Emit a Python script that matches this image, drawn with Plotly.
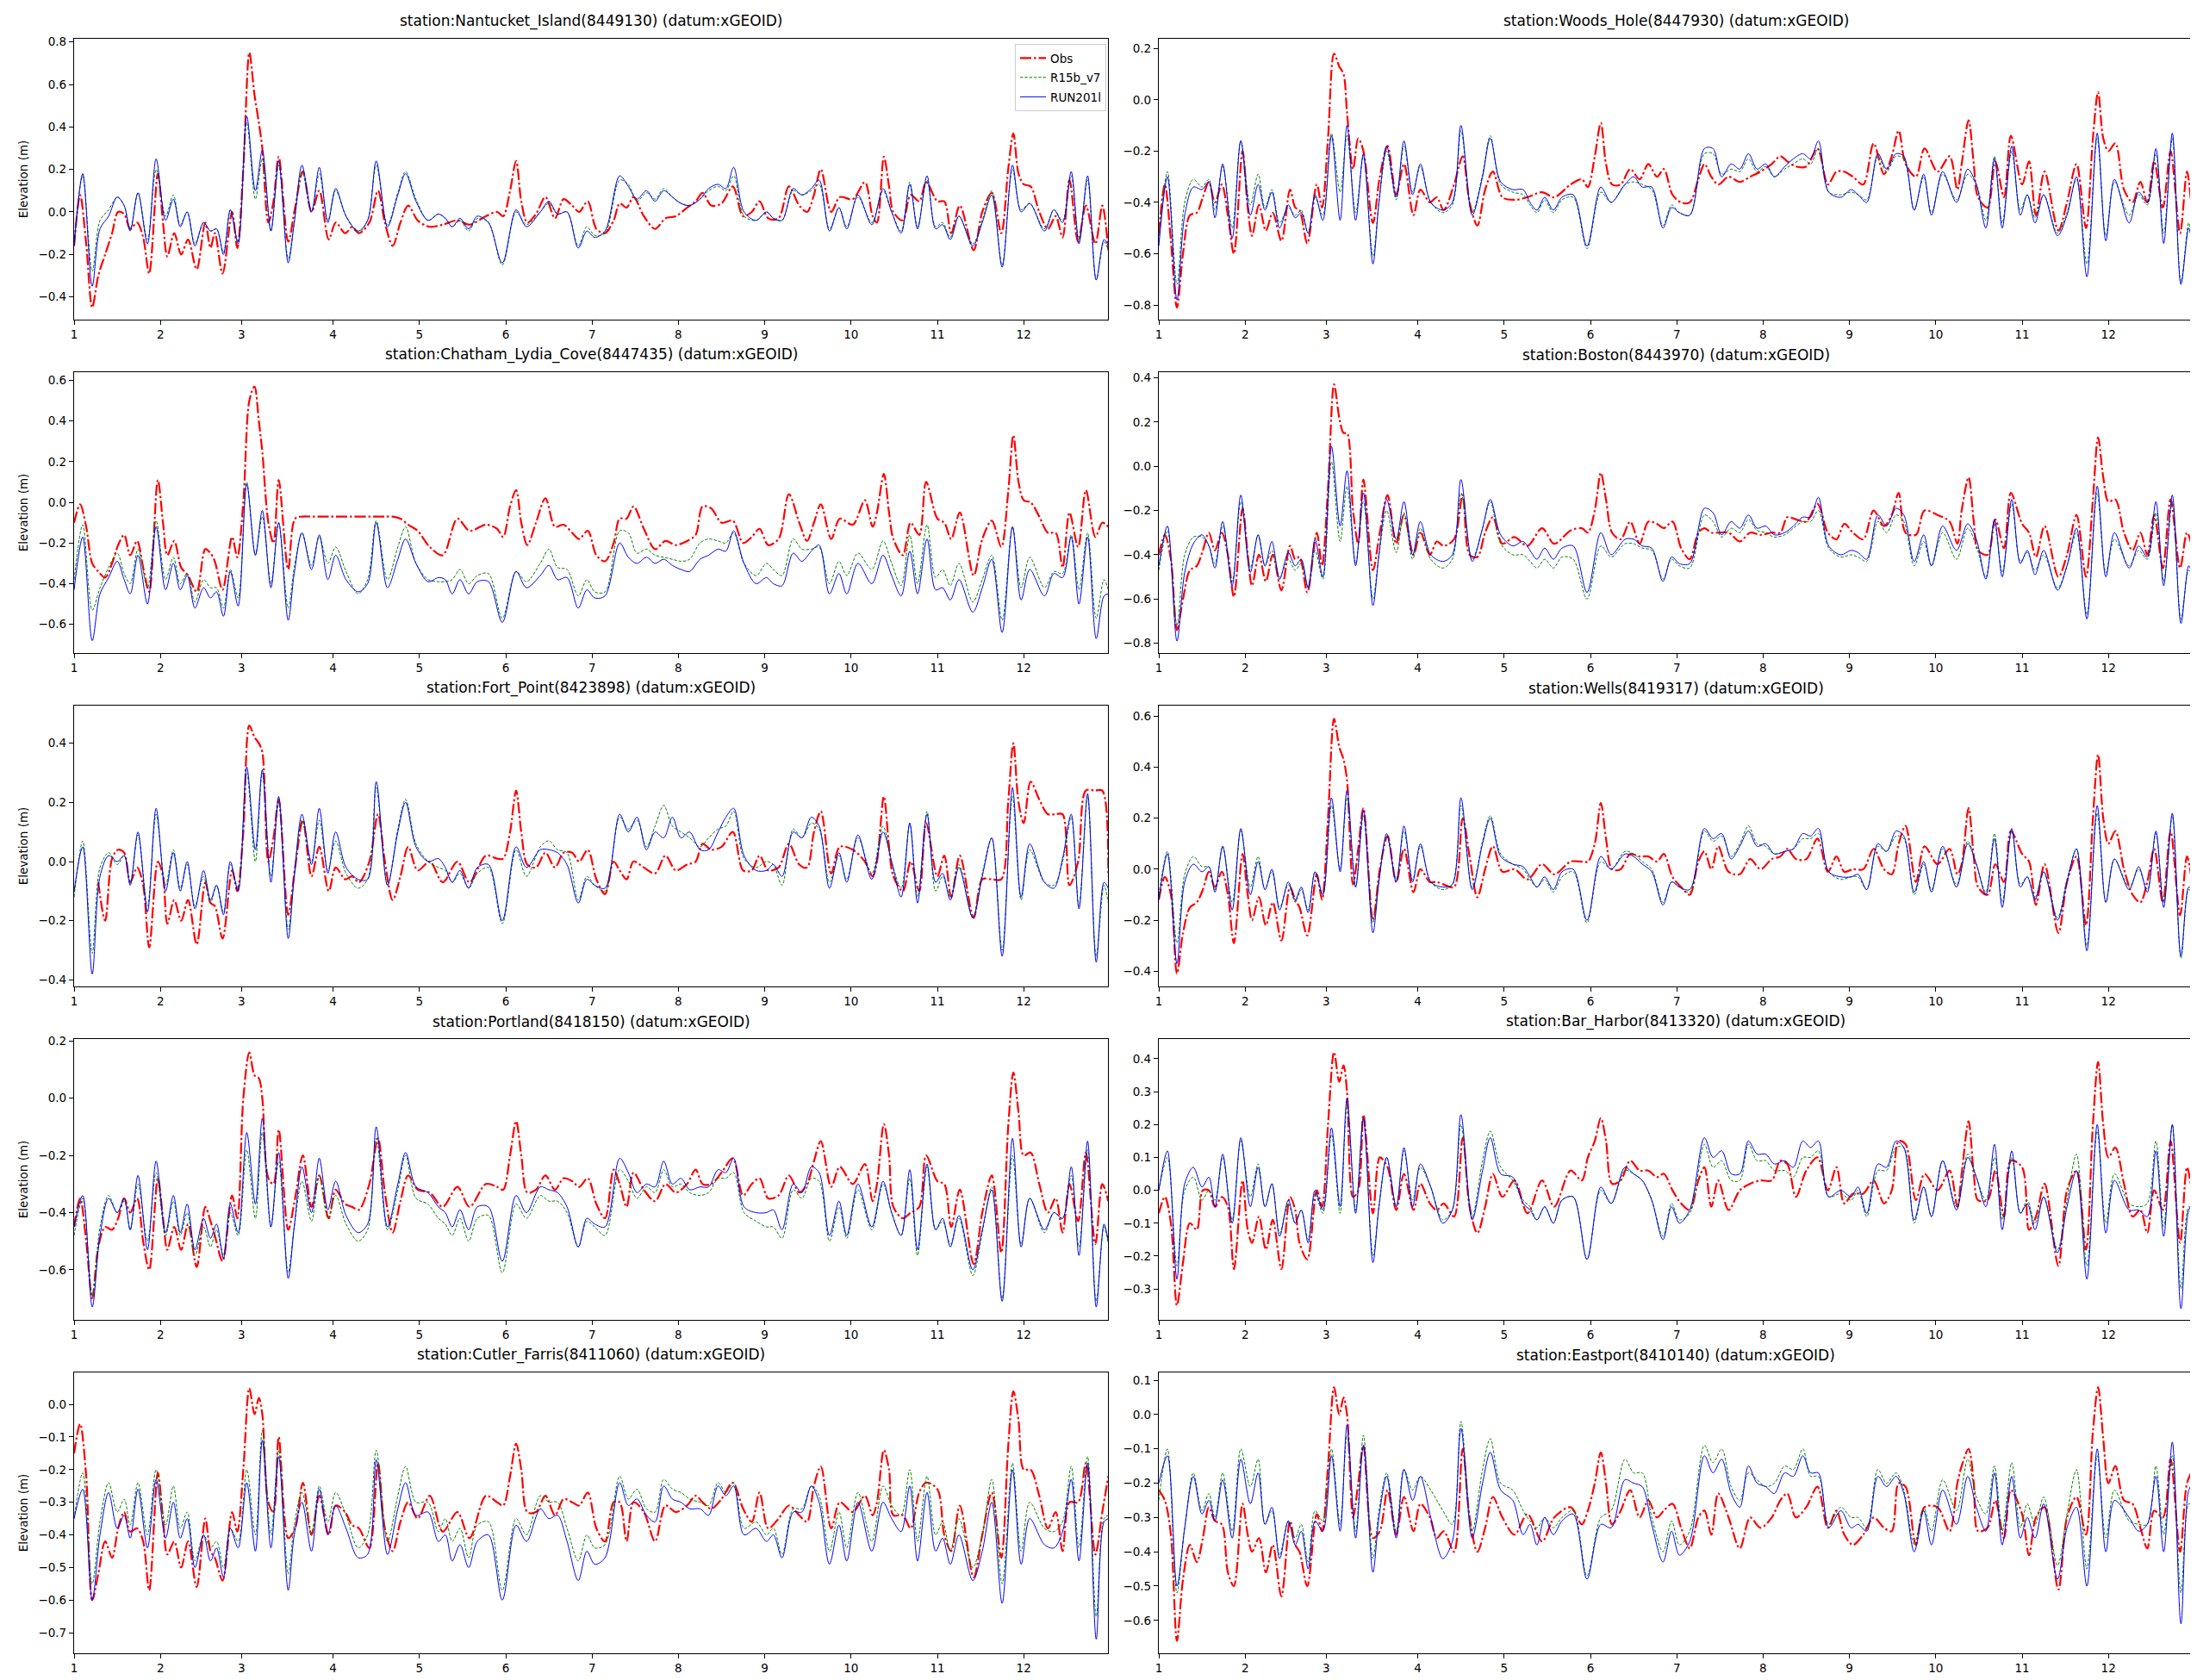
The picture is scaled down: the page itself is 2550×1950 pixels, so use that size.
import plotly.graph_objects as go
from plotly.subplots import make_subplots

# ---------------- time axes (days) ----------------
T_MODEL = [
    1.00, 1.10, 1.21, 1.30, 1.40, 1.50, 1.58, 1.65, 1.74, 1.85,
    1.95, 2.06, 2.15, 2.23, 2.31, 2.40, 2.50, 2.58, 2.65, 2.73,
    2.81, 2.90, 3.00, 3.10, 3.18, 3.28, 3.37, 3.48, 3.55, 3.64,
    3.75, 3.84, 3.94, 4.03, 4.15, 4.29, 4.40, 4.50, 4.63, 4.75,
    4.84, 4.96, 5.10, 5.22, 5.30, 5.38, 5.47, 5.57, 5.67, 5.80,
    5.96, 6.12, 6.24, 6.40, 6.50, 6.60, 6.71, 6.84, 6.94, 7.03,
    7.15, 7.32, 7.42, 7.52, 7.63, 7.73, 7.83, 7.93, 8.03, 8.13,
    8.25, 8.35, 8.46, 8.55, 8.64, 8.76, 8.90, 9.02, 9.10, 9.20,
    9.33, 9.43, 9.54, 9.63, 9.75, 9.86, 9.95, 10.08, 10.24, 10.37,
    10.47, 10.58, 10.68, 10.77, 10.88, 10.98, 11.06, 11.15, 11.25, 11.41,
    11.52, 11.63, 11.75, 11.87, 11.97, 12.07, 12.24, 12.35, 12.45, 12.55,
    12.64, 12.74, 12.84, 12.93, 12.98]

T_OBS = [
    1.00, 1.07, 1.14, 1.21, 1.28, 1.36, 1.44, 1.51, 1.58, 1.65,
    1.73, 1.80, 1.87, 1.97, 2.03, 2.08, 2.16, 2.24, 2.32, 2.42,
    2.52, 2.58, 2.63, 2.72, 2.83, 2.89, 2.96, 3.03, 3.09, 3.14,
    3.18, 3.25, 3.31, 3.37, 3.48, 3.56, 3.65, 3.75, 3.84, 3.95,
    4.03, 4.14, 4.22, 4.30, 4.42, 4.52, 4.60, 4.69, 4.78, 4.87,
    4.98, 5.12, 5.27, 5.44, 5.58, 5.77, 5.90, 5.97, 6.05, 6.12,
    6.18, 6.25, 6.35, 6.46, 6.57, 6.67, 6.77, 6.85, 6.95, 7.05,
    7.15, 7.25, 7.32, 7.40, 7.48, 7.60, 7.73, 7.85, 7.97, 8.10,
    8.20, 8.28, 8.38, 8.50, 8.63, 8.75, 8.85, 8.94, 9.04, 9.16,
    9.28, 9.40, 9.49, 9.57, 9.65, 9.77, 9.87, 10.02, 10.16, 10.25,
    10.30, 10.38, 10.44, 10.49, 10.60, 10.69, 10.79, 10.87, 11.00, 11.08,
    11.16, 11.26, 11.42, 11.52, 11.63, 11.74, 11.82, 11.88, 11.94, 12.00,
    12.08, 12.18, 12.28, 12.37, 12.45, 12.53, 12.63, 12.72, 12.83, 12.91,
    12.98]

X_TICK_POS = [1, 2, 2.94, 4, 5, 6, 7, 8, 9, 10, 11, 12]
X_TICK_TEXT = ["1", "2", "3", "4", "5", "6", "7", "8", "9", "10", "11", "12"]

STATIONS = ["Nantucket_Island(8449130)", "Woods_Hole(8447930)",
            "Chatham_Lydia_Cove(8447435)", "Boston(8443970)",
            "Fort_Point(8423898)", "Wells(8419317)",
            "Portland(8418150)", "Bar_Harbor(8413320)",
            "Cutler_Farris(8411060)", "Eastport(8410140)"]

SERIES_NAMES = ["Obs", "R15b_v7", "RUN201l"]

# ---------------- Nantucket ----------------
NANTUCKET_OBS = [
    -0.16, 0.08, -0.15, -0.45, -0.30, -0.20, -0.10, 0.00, -0.01, -0.08,
    -0.05, -0.12, -0.29, 0.18, -0.05, -0.21, -0.10, -0.20, -0.13, -0.27,
    -0.05, -0.17, -0.10, -0.29, 0.00, -0.17, 0.20, 0.75, 0.55, 0.42,
    0.30, -0.05, 0.05, 0.26, -0.14, 0.02, 0.19, 0.00, 0.10, -0.13,
    -0.05, -0.10, -0.07, -0.10, -0.05, 0.10, -0.05, -0.16, -0.05, 0.03,
    -0.04, -0.07, -0.06, -0.04, -0.06, -0.02, 0.00, -0.02, 0.10, 0.24,
    0.05, -0.05, -0.01, 0.07, -0.03, 0.06, 0.03, 0.00, 0.05, -0.08,
    -0.10, -0.04, 0.04, 0.02, 0.07, -0.02, -0.08, -0.03, -0.02, 0.02,
    0.05, 0.09, 0.03, 0.04, 0.12, -0.02, 0.00, 0.05, -0.03, -0.03,
    0.12, 0.03, 0.00, 0.08, 0.20, 0.00, 0.07, 0.06, 0.14, -0.02,
    -0.05, 0.26, 0.12, 0.00, -0.04, 0.08, 0.05, 0.14, 0.05, 0.05,
    -0.10, 0.03, -0.18, 0.00, 0.09, -0.10, 0.20, 0.37, 0.18, 0.13,
    0.12, 0.00, -0.08, -0.02, -0.12, 0.15, -0.14, 0.03, -0.15, 0.03,
    -0.18]
NANTUCKET_R15 = [
    -0.15, 0.17, -0.28, -0.04, 0.01, 0.07, 0.03, -0.08, 0.09, -0.13,
    0.20, -0.02, 0.08, -0.06, 0.00, -0.15, -0.05, -0.09, -0.08, -0.19,
    0.01, -0.14, 0.42, 0.06, 0.25, -0.09, 0.22, -0.22, -0.05, 0.19,
    0.00, 0.18, -0.04, 0.10, -0.02, -0.10, -0.04, 0.22, -0.06, 0.09,
    0.19, 0.06, -0.04, -0.01, -0.03, -0.07, -0.04, -0.09, -0.03, -0.05,
    -0.25, 0.00, -0.06, 0.00, 0.04, -0.01, 0.00, -0.16, -0.07, -0.11,
    -0.10, 0.15, 0.13, 0.05, 0.09, 0.06, 0.11, 0.07, 0.04, 0.03,
    0.06, 0.10, 0.12, 0.10, 0.17, -0.02, -0.04, 0.00, -0.03, -0.04,
    0.10, 0.08, 0.10, 0.13, -0.08, 0.02, -0.07, 0.07, -0.05, 0.10,
    0.00, -0.09, 0.14, -0.07, 0.15, -0.07, -0.05, -0.12, -0.02, -0.15,
    -0.04, 0.10, -0.25, 0.20, 0.01, 0.04, -0.08, 0.01, -0.04, 0.17,
    -0.13, 0.15, -0.32, -0.14, -0.18]
NANTUCKET_RUN = [
    -0.16, 0.18, -0.35, -0.08, -0.02, 0.07, 0.03, -0.09, 0.09, -0.15,
    0.25, -0.04, 0.06, -0.07, 0.00, -0.16, -0.05, -0.09, -0.08, -0.20,
    0.01, -0.15, 0.45, 0.10, 0.29, -0.09, 0.24, -0.24, -0.05, 0.22,
    0.00, 0.21, -0.05, 0.11, -0.02, -0.09, -0.04, 0.24, -0.07, 0.08,
    0.18, 0.05, -0.04, -0.01, -0.03, -0.07, -0.03, -0.08, -0.02, -0.05,
    -0.24, 0.01, -0.07, 0.00, 0.05, -0.01, 0.00, -0.17, -0.09, -0.12,
    -0.09, 0.17, 0.12, 0.06, 0.10, 0.05, 0.10, 0.07, 0.04, 0.03,
    0.06, 0.11, 0.13, 0.11, 0.21, 0.00, -0.04, 0.00, -0.03, -0.04,
    0.11, 0.08, 0.11, 0.15, -0.09, 0.02, -0.08, 0.08, -0.06, 0.11,
    0.00, -0.10, 0.13, -0.08, 0.17, -0.08, -0.06, -0.13, -0.02, -0.16,
    -0.05, 0.08, -0.26, 0.22, 0.00, 0.04, -0.09, 0.01, -0.05, 0.19,
    -0.15, 0.17, -0.32, -0.13, -0.16]

# ---------------- Woods Hole ----------------
WOODSHOLE_OBS = [
    -0.52, -0.33, -0.55, -0.81, -0.60, -0.45, -0.44, -0.38, -0.32, -0.40,
    -0.33, -0.45, -0.60, -0.20, -0.42, -0.53, -0.41, -0.51, -0.44, -0.55,
    -0.35, -0.42, -0.43, -0.56, -0.33, -0.42, -0.15, 0.18, 0.13, 0.10,
    -0.05, -0.27, -0.15, -0.20, -0.48, -0.30, -0.18, -0.37, -0.25, -0.45,
    -0.35, -0.40, -0.38, -0.43, -0.33, -0.22, -0.40, -0.49, -0.35, -0.28,
    -0.38, -0.39, -0.38, -0.36, -0.38, -0.33, -0.31, -0.34, -0.22, -0.09,
    -0.25, -0.33, -0.33, -0.27, -0.31, -0.25, -0.30, -0.27, -0.37, -0.40,
    -0.40, -0.31, -0.25, -0.30, -0.33, -0.30, -0.32, -0.30, -0.28, -0.25,
    -0.22, -0.24, -0.26, -0.26, -0.19, -0.33, -0.28, -0.28, -0.30, -0.33,
    -0.17, -0.29, -0.22, -0.12, -0.25, -0.30, -0.19, -0.28, -0.22, -0.35,
    -0.25, -0.08, -0.25, -0.38, -0.42, -0.24, -0.38, -0.14, -0.33, -0.24,
    -0.45, -0.28, -0.51, -0.40, -0.25, -0.50, -0.15, 0.03, -0.15, -0.20,
    -0.17, -0.35, -0.40, -0.32, -0.40, -0.24, -0.42, -0.20, -0.52, -0.28,
    -0.50]
WOODSHOLE_R15 = [
    -0.55, -0.28, -0.72, -0.40, -0.31, -0.34, -0.31, -0.43, -0.26, -0.50,
    -0.16, -0.41, -0.29, -0.42, -0.35, -0.48, -0.42, -0.45, -0.43, -0.52,
    -0.38, -0.45, -0.13, -0.36, -0.14, -0.44, -0.22, -0.61, -0.40, -0.20,
    -0.39, -0.18, -0.36, -0.26, -0.40, -0.44, -0.41, -0.12, -0.44, -0.29,
    -0.14, -0.33, -0.36, -0.37, -0.41, -0.44, -0.39, -0.44, -0.39, -0.38,
    -0.58, -0.36, -0.40, -0.33, -0.32, -0.33, -0.35, -0.49, -0.41, -0.44,
    -0.45, -0.21, -0.21, -0.29, -0.27, -0.28, -0.23, -0.28, -0.26, -0.30,
    -0.27, -0.25, -0.23, -0.25, -0.19, -0.36, -0.37, -0.36, -0.37, -0.39,
    -0.22, -0.28, -0.22, -0.23, -0.43, -0.30, -0.44, -0.29, -0.39, -0.29,
    -0.33, -0.47, -0.22, -0.48, -0.20, -0.43, -0.37, -0.46, -0.37, -0.52,
    -0.44, -0.31, -0.64, -0.15, -0.53, -0.32, -0.45, -0.37, -0.41, -0.21,
    -0.52, -0.15, -0.71, -0.48, -0.60]
WOODSHOLE_RUN = [
    -0.57, -0.30, -0.78, -0.45, -0.34, -0.35, -0.32, -0.46, -0.25, -0.54,
    -0.16, -0.45, -0.33, -0.43, -0.36, -0.50, -0.41, -0.46, -0.44, -0.52,
    -0.37, -0.47, -0.14, -0.47, -0.10, -0.47, -0.21, -0.64, -0.40, -0.18,
    -0.38, -0.16, -0.37, -0.25, -0.40, -0.43, -0.40, -0.10, -0.45, -0.30,
    -0.15, -0.32, -0.35, -0.35, -0.40, -0.43, -0.38, -0.43, -0.38, -0.37,
    -0.57, -0.34, -0.40, -0.33, -0.30, -0.34, -0.34, -0.50, -0.42, -0.44,
    -0.45, -0.19, -0.19, -0.30, -0.25, -0.27, -0.21, -0.27, -0.25, -0.30,
    -0.26, -0.23, -0.21, -0.23, -0.16, -0.36, -0.38, -0.35, -0.37, -0.40,
    -0.21, -0.27, -0.21, -0.22, -0.43, -0.29, -0.45, -0.28, -0.40, -0.27,
    -0.33, -0.50, -0.23, -0.50, -0.18, -0.45, -0.37, -0.48, -0.37, -0.53,
    -0.45, -0.30, -0.69, -0.13, -0.55, -0.31, -0.48, -0.36, -0.40, -0.19,
    -0.56, -0.13, -0.72, -0.50, -0.59]

# ---------------- Chatham Lydia Cove ----------------
CHATHAM_OBS = [
    -0.10, -0.01, -0.12, -0.30, -0.34, -0.37, -0.30, -0.21, -0.16, -0.26,
    -0.19, -0.32, -0.44, 0.11, -0.10, -0.26, -0.19, -0.32, -0.36, -0.44,
    -0.23, -0.25, -0.29, -0.43, -0.17, -0.27, 0.00, 0.50, 0.57, 0.40,
    0.25, -0.10, -0.20, 0.11, -0.33, -0.08, -0.07, -0.07, -0.07, -0.07,
    -0.07, -0.07, -0.07, -0.07, -0.07, -0.07, -0.07, -0.07, -0.08, -0.11,
    -0.14, -0.22, -0.26, -0.08, -0.14, -0.11, -0.13, -0.17, -0.02, 0.06,
    -0.10, -0.21, -0.10, 0.02, -0.12, -0.11, -0.15, -0.18, -0.14, -0.26,
    -0.29, -0.20, -0.08, -0.08, -0.02, -0.13, -0.23, -0.19, -0.21, -0.19,
    -0.16, -0.02, -0.03, -0.10, -0.09, -0.20, -0.17, -0.13, -0.21, -0.18,
    0.04, -0.10, -0.19, -0.10, -0.01, -0.18, -0.08, -0.11, 0.01, -0.12,
    -0.05, 0.14, -0.05, -0.18, -0.26, -0.10, -0.16, 0.10, -0.08, -0.10,
    -0.18, -0.05, -0.36, -0.18, -0.09, -0.22, 0.05, 0.33, 0.10, 0.01,
    0.00, -0.07, -0.15, -0.15, -0.32, -0.05, -0.22, 0.06, -0.17, -0.10,
    -0.12]
CHATHAM_R15 = [
    -0.38, -0.11, -0.53, -0.42, -0.32, -0.25, -0.35, -0.40, -0.23, -0.42,
    -0.09, -0.38, -0.27, -0.40, -0.35, -0.49, -0.38, -0.42, -0.42, -0.52,
    -0.33, -0.47, 0.10, -0.26, -0.07, -0.40, -0.10, -0.52, -0.32, -0.15,
    -0.31, -0.17, -0.30, -0.22, -0.34, -0.45, -0.38, -0.09, -0.38, -0.22,
    -0.12, -0.30, -0.38, -0.39, -0.39, -0.38, -0.33, -0.40, -0.36, -0.35,
    -0.57, -0.34, -0.39, -0.30, -0.23, -0.32, -0.33, -0.46, -0.38, -0.44,
    -0.44, -0.14, -0.15, -0.25, -0.23, -0.26, -0.27, -0.28, -0.29, -0.28,
    -0.20, -0.18, -0.19, -0.20, -0.15, -0.30, -0.36, -0.30, -0.33, -0.36,
    -0.18, -0.23, -0.23, -0.22, -0.40, -0.29, -0.36, -0.25, -0.33, -0.19,
    -0.30, -0.41, -0.16, -0.40, -0.11, -0.37, -0.33, -0.41, -0.30, -0.49,
    -0.38, -0.26, -0.58, -0.12, -0.42, -0.27, -0.42, -0.34, -0.35, -0.16,
    -0.43, -0.15, -0.57, -0.38, -0.43]
CHATHAM_RUN = [
    -0.43, -0.17, -0.68, -0.45, -0.37, -0.29, -0.38, -0.45, -0.26, -0.50,
    -0.12, -0.43, -0.30, -0.43, -0.36, -0.52, -0.42, -0.47, -0.44, -0.56,
    -0.34, -0.51, 0.09, -0.26, -0.04, -0.42, -0.10, -0.58, -0.35, -0.15,
    -0.33, -0.16, -0.38, -0.26, -0.38, -0.44, -0.40, -0.10, -0.42, -0.28,
    -0.18, -0.30, -0.39, -0.37, -0.38, -0.45, -0.38, -0.45, -0.39, -0.39,
    -0.59, -0.34, -0.42, -0.36, -0.31, -0.38, -0.37, -0.52, -0.43, -0.47,
    -0.46, -0.20, -0.27, -0.30, -0.27, -0.30, -0.28, -0.31, -0.33, -0.34,
    -0.28, -0.26, -0.23, -0.24, -0.14, -0.30, -0.40, -0.37, -0.40, -0.41,
    -0.25, -0.29, -0.24, -0.21, -0.45, -0.35, -0.45, -0.30, -0.40, -0.26,
    -0.36, -0.46, -0.24, -0.45, -0.18, -0.43, -0.42, -0.48, -0.38, -0.54,
    -0.42, -0.28, -0.64, -0.12, -0.48, -0.33, -0.46, -0.35, -0.37, -0.17,
    -0.50, -0.17, -0.67, -0.46, -0.45]

# ---------------- Boston ----------------
BOSTON_OBS = [
    -0.40, -0.31, -0.42, -0.74, -0.60, -0.47, -0.45, -0.38, -0.30, -0.38,
    -0.30, -0.40, -0.59, -0.19, -0.40, -0.54, -0.40, -0.52, -0.40, -0.56,
    -0.36, -0.42, -0.41, -0.57, -0.30, -0.45, -0.10, 0.37, 0.22, 0.15,
    0.15, -0.20, -0.35, -0.06, -0.47, -0.30, -0.13, -0.35, -0.22, -0.40,
    -0.30, -0.40, -0.34, -0.36, -0.33, -0.13, -0.40, -0.41, -0.30, -0.23,
    -0.35, -0.32, -0.36, -0.28, -0.35, -0.29, -0.28, -0.30, -0.20, -0.03,
    -0.15, -0.30, -0.33, -0.25, -0.35, -0.25, -0.26, -0.28, -0.25, -0.37,
    -0.42, -0.30, -0.28, -0.30, -0.30, -0.30, -0.34, -0.30, -0.31, -0.30,
    -0.30, -0.23, -0.24, -0.25, -0.17, -0.30, -0.33, -0.26, -0.30, -0.33,
    -0.20, -0.27, -0.22, -0.12, -0.30, -0.31, -0.20, -0.22, -0.25, -0.35,
    -0.20, -0.05, -0.25, -0.38, -0.40, -0.24, -0.37, -0.12, -0.26, -0.30,
    -0.41, -0.27, -0.50, -0.40, -0.22, -0.50, -0.15, 0.13, -0.05, -0.16,
    -0.15, -0.30, -0.38, -0.30, -0.40, -0.22, -0.46, -0.15, -0.46, -0.30,
    -0.38]
BOSTON_R15 = [
    -0.47, -0.29, -0.72, -0.40, -0.32, -0.32, -0.36, -0.44, -0.27, -0.52,
    -0.16, -0.46, -0.31, -0.45, -0.38, -0.50, -0.42, -0.47, -0.44, -0.55,
    -0.38, -0.51, 0.02, -0.34, -0.09, -0.44, -0.16, -0.60, -0.40, -0.20,
    -0.39, -0.21, -0.42, -0.28, -0.42, -0.46, -0.42, -0.12, -0.42, -0.28,
    -0.16, -0.35, -0.40, -0.40, -0.43, -0.46, -0.42, -0.46, -0.41, -0.42,
    -0.60, -0.36, -0.41, -0.35, -0.35, -0.37, -0.38, -0.51, -0.42, -0.45,
    -0.46, -0.22, -0.25, -0.32, -0.28, -0.30, -0.24, -0.29, -0.30, -0.32,
    -0.31, -0.28, -0.25, -0.25, -0.20, -0.37, -0.41, -0.40, -0.41, -0.43,
    -0.25, -0.30, -0.22, -0.25, -0.45, -0.34, -0.45, -0.30, -0.42, -0.28,
    -0.36, -0.50, -0.26, -0.48, -0.17, -0.43, -0.39, -0.47, -0.40, -0.55,
    -0.45, -0.30, -0.67, -0.12, -0.48, -0.33, -0.45, -0.38, -0.42, -0.21,
    -0.52, -0.16, -0.69, -0.47, -0.50]
BOSTON_RUN = [
    -0.45, -0.27, -0.79, -0.48, -0.35, -0.31, -0.36, -0.46, -0.25, -0.54,
    -0.13, -0.48, -0.31, -0.45, -0.34, -0.51, -0.39, -0.45, -0.42, -0.55,
    -0.33, -0.50, 0.09, -0.27, -0.02, -0.45, -0.12, -0.63, -0.40, -0.15,
    -0.33, -0.16, -0.40, -0.25, -0.40, -0.43, -0.40, -0.06, -0.43, -0.28,
    -0.15, -0.31, -0.36, -0.34, -0.38, -0.42, -0.37, -0.42, -0.37, -0.36,
    -0.57, -0.30, -0.40, -0.33, -0.33, -0.36, -0.37, -0.52, -0.41, -0.44,
    -0.44, -0.19, -0.21, -0.31, -0.25, -0.28, -0.22, -0.28, -0.27, -0.31,
    -0.30, -0.27, -0.23, -0.23, -0.14, -0.36, -0.40, -0.38, -0.39, -0.42,
    -0.22, -0.27, -0.19, -0.22, -0.43, -0.31, -0.45, -0.27, -0.38, -0.26,
    -0.33, -0.51, -0.24, -0.50, -0.15, -0.44, -0.38, -0.49, -0.38, -0.56,
    -0.45, -0.28, -0.69, -0.09, -0.50, -0.30, -0.46, -0.36, -0.41, -0.16,
    -0.54, -0.13, -0.71, -0.45, -0.50]

# ---------------- Fort Point ----------------
FORTPOINT_OBS = [
    None, None, None, None, -0.07, -0.20, 0.01, 0.04, 0.03, -0.07,
    -0.02, -0.08, -0.29, 0.00, -0.05, -0.21, -0.13, -0.20, -0.13, -0.28,
    -0.07, -0.14, -0.15, -0.26, -0.03, -0.10, 0.10, 0.46, 0.42, 0.40,
    0.37, 0.00, 0.08, 0.21, -0.18, -0.02, 0.14, -0.05, 0.05, -0.10,
    -0.02, -0.06, -0.05, -0.07, 0.00, 0.16, 0.00, -0.13, -0.05, 0.05,
    -0.03, 0.00, -0.07, 0.00, -0.07, 0.02, 0.01, 0.01, 0.10, 0.24,
    0.10, -0.01, -0.02, 0.03, -0.02, 0.03, 0.03, 0.00, 0.04, -0.06,
    -0.11, 0.00, -0.03, -0.06, 0.00, -0.02, -0.04, 0.02, -0.03, -0.01,
    0.00, 0.06, 0.04, 0.05, 0.10, -0.03, -0.03, 0.02, -0.03, -0.02,
    0.06, -0.01, -0.02, 0.10, 0.17, -0.04, 0.05, 0.04, 0.00, -0.05,
    0.00, 0.22, 0.05, -0.05, -0.10, 0.00, -0.10, 0.13, -0.05, 0.02,
    -0.12, 0.02, -0.19, -0.06, -0.06, -0.06, 0.20, 0.40, 0.20, 0.13,
    0.27, 0.21, 0.16, 0.16, 0.16, -0.08, 0.00, 0.24, 0.24, 0.24,
    -0.05]
FORTPOINT_R15 = [
    -0.12, 0.07, -0.31, -0.02, 0.03, -0.01, 0.02, -0.07, 0.09, -0.15,
    0.16, -0.08, 0.04, -0.09, -0.01, -0.15, -0.05, -0.14, -0.08, -0.17,
    -0.01, -0.09, 0.30, 0.00, 0.30, -0.05, 0.20, -0.23, -0.05, 0.14,
    0.00, 0.14, -0.03, 0.07, -0.04, -0.09, -0.06, 0.25, -0.08, 0.11,
    0.21, 0.06, 0.00, -0.02, -0.03, -0.07, -0.04, -0.09, -0.04, -0.02,
    -0.21, 0.04, -0.05, 0.05, 0.07, 0.04, 0.03, -0.13, -0.05, -0.08,
    -0.10, 0.15, 0.11, 0.14, 0.05, 0.12, 0.19, 0.12, 0.10, 0.08,
    0.05, 0.08, 0.11, 0.12, 0.17, 0.01, -0.02, 0.00, -0.01, -0.08,
    0.11, 0.08, 0.13, 0.11, -0.07, 0.02, -0.06, 0.08, -0.04, 0.12,
    0.00, -0.09, 0.13, -0.12, 0.17, -0.10, -0.05, -0.12, -0.01, -0.19,
    -0.04, 0.08, -0.30, 0.22, -0.13, 0.04, -0.07, -0.08, 0.00, 0.15,
    -0.15, 0.22, -0.32, -0.08, -0.14]
FORTPOINT_RUN = [
    -0.10, 0.05, -0.38, -0.05, 0.02, 0.00, 0.02, -0.08, 0.10, -0.17,
    0.18, -0.10, 0.03, -0.10, 0.00, -0.16, -0.03, -0.13, -0.08, -0.18,
    0.00, -0.10, 0.32, 0.04, 0.31, -0.07, 0.22, -0.26, -0.05, 0.16,
    -0.01, 0.18, -0.04, 0.10, -0.02, -0.06, -0.06, 0.27, -0.08, 0.10,
    0.20, 0.05, 0.00, 0.01, -0.02, -0.07, -0.03, -0.09, -0.02, -0.01,
    -0.20, 0.05, -0.02, 0.04, 0.04, 0.03, -0.01, -0.14, -0.06, -0.08,
    -0.09, 0.16, 0.10, 0.15, 0.04, 0.10, 0.08, 0.15, 0.08, 0.10,
    0.04, 0.04, 0.10, 0.15, 0.18, 0.02, -0.03, -0.03, -0.01, -0.05,
    0.10, 0.08, 0.15, 0.12, -0.09, 0.03, -0.07, 0.09, -0.06, 0.10,
    0.00, -0.12, 0.13, -0.14, 0.16, -0.07, -0.04, -0.13, -0.02, -0.19,
    -0.05, 0.08, -0.32, 0.25, -0.12, 0.06, -0.07, -0.09, 0.01, 0.16,
    -0.16, 0.23, -0.34, -0.07, -0.09]

# ---------------- Wells ----------------
WELLS_OBS = [
    -0.12, -0.03, -0.10, -0.41, -0.25, -0.15, -0.13, -0.08, -0.01, -0.07,
    -0.01, -0.10, -0.29, 0.06, -0.10, -0.20, -0.11, -0.22, -0.13, -0.28,
    -0.07, -0.12, -0.15, -0.26, -0.02, -0.12, 0.20, 0.59, 0.48, 0.43,
    0.35, -0.06, 0.08, 0.24, -0.20, 0.00, 0.13, -0.05, 0.08, -0.09,
    0.00, -0.05, -0.05, -0.06, -0.07, 0.20, 0.05, -0.11, 0.00, 0.09,
    -0.01, 0.00, -0.04, 0.02, -0.02, 0.03, 0.03, 0.03, 0.10, 0.26,
    0.12, 0.00, 0.00, 0.06, 0.05, 0.05, 0.03, 0.06, -0.03, -0.07,
    -0.10, 0.03, 0.07, 0.00, 0.09, -0.01, -0.02, 0.04, 0.00, 0.04,
    0.05, 0.08, 0.04, 0.04, 0.12, -0.01, 0.05, -0.01, 0.00, 0.00,
    0.08, 0.00, -0.02, 0.10, 0.17, -0.05, 0.09, 0.02, 0.08, -0.02,
    0.02, 0.24, 0.05, -0.07, -0.10, 0.02, -0.05, 0.15, 0.06, 0.03,
    -0.14, 0.02, -0.25, -0.05, 0.05, -0.22, 0.20, 0.45, 0.20, 0.10,
    0.15, 0.00, -0.10, -0.13, -0.05, 0.08, -0.13, 0.15, -0.18, 0.05,
    -0.08]
WELLS_R15 = [
    -0.10, 0.07, -0.29, -0.02, 0.05, 0.01, 0.01, -0.08, 0.09, -0.13,
    0.15, -0.07, 0.05, -0.08, -0.01, -0.15, -0.06, -0.13, -0.08, -0.16,
    -0.01, -0.10, 0.25, 0.00, 0.28, -0.07, 0.21, -0.21, -0.04, 0.13,
    -0.04, 0.15, -0.04, 0.09, -0.05, -0.08, -0.06, 0.25, -0.07, 0.11,
    0.21, 0.06, 0.02, 0.00, -0.04, -0.07, -0.04, -0.09, -0.03, -0.01,
    -0.21, 0.03, 0.00, 0.07, 0.06, 0.03, 0.00, -0.13, -0.05, -0.07,
    -0.09, 0.15, 0.11, 0.13, 0.05, 0.10, 0.17, 0.10, 0.09, 0.06,
    0.07, 0.08, 0.12, 0.12, 0.14, -0.01, -0.04, -0.03, -0.03, -0.08,
    0.09, 0.07, 0.13, 0.12, -0.10, 0.02, -0.08, 0.08, -0.06, 0.11,
    0.02, -0.09, 0.14, -0.13, 0.15, -0.06, -0.03, -0.11, -0.01, -0.19,
    -0.04, 0.08, -0.30, 0.22, -0.13, 0.04, -0.07, 0.00, -0.08, 0.14,
    -0.13, 0.21, -0.35, -0.08, -0.10]
WELLS_RUN = [
    -0.12, 0.06, -0.37, -0.05, 0.02, -0.01, 0.01, -0.09, 0.09, -0.16,
    0.16, -0.10, 0.03, -0.08, 0.00, -0.16, -0.05, -0.12, -0.07, -0.17,
    -0.01, -0.10, 0.28, -0.01, 0.31, -0.07, 0.23, -0.25, -0.05, 0.14,
    -0.05, 0.17, -0.05, 0.10, -0.05, -0.07, -0.06, 0.28, -0.08, 0.10,
    0.20, 0.05, 0.02, 0.01, -0.03, -0.07, -0.03, -0.08, -0.01, 0.00,
    -0.20, 0.05, 0.00, 0.06, 0.05, 0.02, -0.01, -0.14, -0.05, -0.07,
    -0.08, 0.16, 0.12, 0.14, 0.04, 0.09, 0.15, 0.09, 0.10, 0.06,
    0.07, 0.08, 0.14, 0.13, 0.16, -0.01, -0.03, -0.03, -0.02, -0.08,
    0.10, 0.07, 0.15, 0.13, -0.09, 0.03, -0.09, 0.09, -0.07, 0.10,
    0.02, -0.10, 0.12, -0.15, 0.16, -0.07, -0.03, -0.12, -0.01, -0.20,
    -0.05, 0.08, -0.32, 0.25, -0.13, 0.04, -0.08, 0.01, -0.09, 0.15,
    -0.15, 0.22, -0.34, -0.07, -0.09]

# ---------------- Portland ----------------
PORTLAND_OBS = [
    -0.45, -0.35, -0.50, -0.70, -0.52, -0.45, -0.46, -0.42, -0.35, -0.40,
    -0.35, -0.50, -0.60, -0.28, -0.42, -0.53, -0.45, -0.53, -0.44, -0.59,
    -0.38, -0.43, -0.48, -0.57, -0.34, -0.42, 0.00, 0.16, 0.08, 0.07,
    0.00, -0.28, -0.30, -0.11, -0.46, -0.35, -0.20, -0.38, -0.27, -0.42,
    -0.32, -0.37, -0.38, -0.39, -0.30, -0.14, -0.33, -0.47, -0.36, -0.27,
    -0.32, -0.33, -0.38, -0.31, -0.38, -0.30, -0.31, -0.32, -0.20, -0.08,
    -0.20, -0.33, -0.32, -0.27, -0.32, -0.28, -0.29, -0.31, -0.28, -0.37,
    -0.42, -0.25, -0.30, -0.38, -0.26, -0.32, -0.36, -0.30, -0.33, -0.30,
    -0.25, -0.30, -0.30, -0.26, -0.21, -0.34, -0.30, -0.28, -0.35, -0.34,
    -0.27, -0.33, -0.30, -0.22, -0.15, -0.31, -0.24, -0.30, -0.23, -0.36,
    -0.30, -0.09, -0.20, -0.38, -0.42, -0.40, -0.38, -0.20, -0.29, -0.30,
    -0.45, -0.32, -0.58, -0.40, -0.27, -0.54, -0.10, 0.09, -0.05, -0.20,
    -0.19, -0.30, -0.40, -0.35, -0.47, -0.30, -0.43, -0.19, -0.51, -0.30,
    -0.36]
PORTLAND_R15 = [
    -0.48, -0.35, -0.69, -0.45, -0.34, -0.40, -0.36, -0.46, -0.30, -0.50,
    -0.26, -0.48, -0.36, -0.48, -0.40, -0.55, -0.45, -0.52, -0.46, -0.55,
    -0.40, -0.48, -0.18, -0.42, -0.12, -0.45, -0.22, -0.61, -0.45, -0.29,
    -0.43, -0.27, -0.42, -0.34, -0.44, -0.50, -0.46, -0.14, -0.46, -0.32,
    -0.20, -0.35, -0.37, -0.42, -0.44, -0.48, -0.42, -0.50, -0.42, -0.41,
    -0.61, -0.37, -0.42, -0.34, -0.36, -0.36, -0.40, -0.52, -0.43, -0.45,
    -0.48, -0.25, -0.29, -0.35, -0.31, -0.33, -0.25, -0.31, -0.30, -0.33,
    -0.34, -0.33, -0.28, -0.28, -0.26, -0.40, -0.43, -0.45, -0.45, -0.49,
    -0.32, -0.35, -0.28, -0.29, -0.50, -0.38, -0.49, -0.32, -0.46, -0.30,
    -0.40, -0.48, -0.28, -0.55, -0.24, -0.46, -0.43, -0.51, -0.42, -0.62,
    -0.47, -0.31, -0.70, -0.20, -0.51, -0.35, -0.47, -0.40, -0.42, -0.27,
    -0.52, -0.18, -0.71, -0.45, -0.51]
PORTLAND_RUN = [
    -0.45, -0.34, -0.73, -0.48, -0.35, -0.40, -0.35, -0.46, -0.27, -0.53,
    -0.22, -0.47, -0.34, -0.47, -0.37, -0.53, -0.42, -0.49, -0.44, -0.56,
    -0.37, -0.47, -0.12, -0.37, -0.07, -0.45, -0.19, -0.63, -0.45, -0.24,
    -0.40, -0.21, -0.39, -0.29, -0.41, -0.47, -0.44, -0.10, -0.45, -0.30,
    -0.19, -0.31, -0.33, -0.38, -0.40, -0.45, -0.39, -0.46, -0.38, -0.38,
    -0.57, -0.34, -0.40, -0.31, -0.32, -0.33, -0.38, -0.52, -0.42, -0.44,
    -0.45, -0.21, -0.26, -0.33, -0.30, -0.31, -0.22, -0.30, -0.28, -0.32,
    -0.31, -0.31, -0.25, -0.26, -0.21, -0.38, -0.40, -0.40, -0.39, -0.46,
    -0.30, -0.33, -0.24, -0.26, -0.48, -0.36, -0.48, -0.30, -0.45, -0.29,
    -0.40, -0.48, -0.25, -0.53, -0.23, -0.46, -0.42, -0.52, -0.41, -0.60,
    -0.46, -0.32, -0.71, -0.14, -0.52, -0.35, -0.46, -0.40, -0.42, -0.24,
    -0.55, -0.15, -0.73, -0.44, -0.50]

# ---------------- Bar Harbor ----------------
BARHARBOR_OBS = [
    -0.07, -0.02, -0.10, -0.35, -0.22, -0.10, -0.12, 0.00, 0.00, -0.05,
    -0.02, -0.05, -0.24, 0.03, -0.12, -0.16, -0.08, -0.18, -0.09, -0.24,
    -0.02, -0.06, -0.16, -0.21, 0.00, -0.05, 0.20, 0.42, 0.33, 0.38,
    0.30, -0.02, 0.00, 0.23, -0.07, 0.10, 0.07, -0.06, 0.05, -0.06,
    0.02, -0.04, -0.06, -0.04, -0.08, 0.16, -0.05, -0.13, -0.05, 0.05,
    -0.02, 0.03, -0.07, 0.03, -0.05, 0.06, 0.03, 0.10, 0.15, 0.22,
    0.15, 0.02, 0.03, 0.09, 0.06, 0.06, 0.04, 0.05, 0.00, -0.04,
    -0.06, 0.03, 0.07, -0.05, 0.03, -0.06, 0.00, 0.02, 0.03, 0.03,
    0.09, 0.08, -0.02, 0.06, 0.10, 0.00, 0.07, -0.04, -0.01, -0.01,
    0.03, -0.04, 0.00, 0.15, 0.14, -0.03, 0.05, 0.00, 0.06, -0.05,
    0.05, 0.21, 0.05, -0.03, -0.03, 0.06, -0.08, 0.09, 0.07, -0.12,
    -0.08, 0.02, -0.23, 0.00, 0.06, -0.18, 0.20, 0.39, 0.20, 0.10,
    0.13, 0.02, -0.08, -0.06, -0.13, 0.00, -0.06, 0.15, -0.16, 0.07,
    -0.03]
BARHARBOR_R15 = [
    0.00, 0.10, -0.23, 0.00, 0.04, -0.03, 0.00, -0.03, 0.10, -0.09,
    0.15, -0.02, 0.08, -0.05, 0.02, -0.13, -0.04, -0.10, -0.06, -0.15,
    -0.01, -0.07, 0.17, -0.07, 0.26, -0.06, 0.22, -0.20, -0.05, 0.10,
    -0.05, 0.12, -0.03, 0.07, 0.01, -0.09, -0.06, 0.20, -0.08, 0.09,
    0.18, 0.07, 0.03, -0.03, -0.05, -0.09, -0.05, -0.10, -0.03, -0.02,
    -0.21, 0.00, -0.04, 0.06, 0.05, 0.03, -0.03, -0.14, -0.04, -0.09,
    -0.07, 0.14, 0.07, 0.09, 0.03, 0.03, 0.14, 0.09, 0.09, 0.06,
    0.06, 0.04, 0.10, 0.10, 0.12, -0.02, -0.01, -0.03, 0.00, -0.08,
    0.06, 0.06, 0.13, 0.13, -0.10, 0.01, -0.08, 0.09, -0.05, 0.11,
    0.04, -0.03, 0.10, -0.09, 0.10, -0.07, -0.03, -0.10, -0.02, -0.18,
    -0.03, 0.11, -0.23, 0.18, -0.10, 0.05, -0.04, -0.05, -0.04, 0.15,
    -0.11, 0.20, -0.30, -0.05, -0.06]
BARHARBOR_RUN = [
    0.00, 0.12, -0.27, 0.02, 0.07, 0.01, 0.04, -0.05, 0.11, -0.10,
    0.16, -0.05, 0.07, -0.05, 0.02, -0.14, -0.03, -0.10, -0.06, -0.16,
    0.00, -0.06, 0.19, -0.05, 0.28, -0.07, 0.22, -0.22, -0.05, 0.10,
    -0.05, 0.13, -0.05, 0.08, 0.01, -0.10, -0.06, 0.23, -0.09, 0.06,
    0.16, 0.05, 0.04, -0.04, -0.06, -0.09, -0.05, -0.10, -0.03, -0.02,
    -0.21, 0.01, -0.04, 0.07, 0.05, 0.03, -0.03, -0.15, -0.05, -0.10,
    -0.06, 0.16, 0.10, 0.12, 0.05, 0.05, 0.15, 0.11, 0.11, 0.08,
    0.09, 0.07, 0.15, 0.13, 0.15, -0.02, 0.00, -0.02, 0.01, -0.07,
    0.08, 0.07, 0.15, 0.13, -0.09, 0.01, -0.08, 0.09, -0.06, 0.10,
    0.04, -0.05, 0.14, -0.12, 0.12, -0.07, -0.04, -0.12, -0.02, -0.19,
    -0.05, 0.06, -0.27, 0.20, -0.13, 0.03, -0.06, -0.06, -0.08, 0.12,
    -0.14, 0.20, -0.36, -0.06, -0.04]

# ---------------- Cutler Farris ----------------
CUTLER_OBS = [
    -0.15, -0.06, -0.22, -0.60, -0.52, -0.42, -0.47, -0.38, -0.33, -0.39,
    -0.38, -0.42, -0.57, -0.21, -0.35, -0.46, -0.42, -0.50, -0.42, -0.56,
    -0.35, -0.45, -0.47, -0.54, -0.33, -0.39, -0.20, 0.05, -0.03, 0.02,
    -0.03, -0.30, -0.33, -0.10, -0.41, -0.38, -0.24, -0.40, -0.28, -0.40,
    -0.31, -0.33, -0.37, -0.38, -0.44, -0.18, -0.38, -0.45, -0.36, -0.30,
    -0.35, -0.28, -0.39, -0.33, -0.41, -0.28, -0.30, -0.31, -0.22, -0.12,
    -0.20, -0.33, -0.33, -0.28, -0.34, -0.29, -0.30, -0.31, -0.27, -0.38,
    -0.42, -0.30, -0.30, -0.42, -0.30, -0.33, -0.42, -0.31, -0.33, -0.31,
    -0.28, -0.30, -0.32, -0.29, -0.24, -0.32, -0.36, -0.27, -0.38, -0.35,
    -0.31, -0.34, -0.36, -0.25, -0.19, -0.38, -0.30, -0.33, -0.28, -0.34,
    -0.30, -0.14, -0.20, -0.34, -0.34, -0.38, -0.27, -0.24, -0.26, -0.40,
    -0.45, -0.31, -0.53, -0.40, -0.27, -0.47, -0.13, 0.04, -0.05, -0.20,
    -0.20, -0.28, -0.38, -0.33, -0.45, -0.30, -0.30, -0.18, -0.46, -0.33,
    -0.22]
CUTLER_R15 = [
    -0.35, -0.21, -0.55, -0.36, -0.24, -0.33, -0.29, -0.37, -0.24, -0.40,
    -0.20, -0.37, -0.25, -0.38, -0.33, -0.48, -0.40, -0.44, -0.42, -0.50,
    -0.38, -0.42, -0.20, -0.40, -0.08, -0.40, -0.14, -0.52, -0.37, -0.27,
    -0.40, -0.25, -0.36, -0.27, -0.34, -0.44, -0.40, -0.14, -0.42, -0.28,
    -0.19, -0.30, -0.30, -0.39, -0.35, -0.42, -0.38, -0.47, -0.37, -0.36,
    -0.57, -0.35, -0.40, -0.28, -0.30, -0.30, -0.38, -0.48, -0.40, -0.44,
    -0.43, -0.22, -0.29, -0.26, -0.32, -0.33, -0.23, -0.26, -0.27, -0.29,
    -0.30, -0.31, -0.24, -0.27, -0.24, -0.38, -0.36, -0.40, -0.38, -0.46,
    -0.32, -0.32, -0.25, -0.28, -0.45, -0.33, -0.44, -0.27, -0.42, -0.25,
    -0.31, -0.34, -0.20, -0.42, -0.22, -0.40, -0.36, -0.45, -0.35, -0.50,
    -0.40, -0.23, -0.55, -0.18, -0.45, -0.30, -0.38, -0.39, -0.36, -0.19,
    -0.44, -0.16, -0.65, -0.35, -0.34]
CUTLER_RUN = [
    -0.35, -0.26, -0.60, -0.40, -0.27, -0.38, -0.34, -0.41, -0.26, -0.44,
    -0.23, -0.41, -0.30, -0.41, -0.35, -0.50, -0.40, -0.48, -0.44, -0.53,
    -0.38, -0.44, -0.24, -0.45, -0.11, -0.44, -0.16, -0.57, -0.40, -0.30,
    -0.45, -0.26, -0.40, -0.31, -0.38, -0.47, -0.46, -0.17, -0.46, -0.32,
    -0.24, -0.34, -0.33, -0.42, -0.40, -0.48, -0.43, -0.50, -0.42, -0.40,
    -0.60, -0.37, -0.42, -0.32, -0.35, -0.34, -0.42, -0.54, -0.45, -0.49,
    -0.47, -0.24, -0.31, -0.29, -0.34, -0.36, -0.25, -0.29, -0.30, -0.32,
    -0.32, -0.34, -0.25, -0.28, -0.25, -0.40, -0.38, -0.42, -0.40, -0.47,
    -0.33, -0.33, -0.25, -0.30, -0.49, -0.37, -0.48, -0.30, -0.45, -0.30,
    -0.35, -0.39, -0.25, -0.48, -0.27, -0.45, -0.41, -0.49, -0.40, -0.54,
    -0.45, -0.30, -0.61, -0.20, -0.49, -0.35, -0.43, -0.44, -0.39, -0.23,
    -0.48, -0.18, -0.72, -0.36, -0.35]

# ---------------- Eastport ----------------
EASTPORT_OBS = [
    -0.22, -0.25, -0.35, -0.66, -0.48, -0.38, -0.43, -0.36, -0.27, -0.31,
    -0.32, -0.46, -0.50, -0.26, -0.35, -0.40, -0.36, -0.46, -0.38, -0.53,
    -0.31, -0.38, -0.40, -0.50, -0.29, -0.34, -0.15, 0.08, 0.00, 0.05,
    0.00, -0.30, -0.20, -0.09, -0.36, -0.34, -0.22, -0.35, -0.24, -0.34,
    -0.26, -0.30, -0.36, -0.34, -0.40, -0.10, -0.30, -0.40, -0.33, -0.24,
    -0.30, -0.35, -0.29, -0.37, -0.30, -0.27, -0.32, -0.28, -0.20, -0.11,
    -0.20, -0.32, -0.28, -0.22, -0.30, -0.25, -0.30, -0.28, -0.26, -0.33,
    -0.39, -0.30, -0.28, -0.35, -0.23, -0.30, -0.39, -0.30, -0.33, -0.30,
    -0.25, -0.23, -0.30, -0.27, -0.21, -0.33, -0.28, -0.35, -0.38, -0.35,
    -0.30, -0.33, -0.34, -0.20, -0.21, -0.38, -0.27, -0.27, -0.34, -0.20,
    -0.15, -0.10, -0.20, -0.34, -0.33, -0.25, -0.36, -0.22, -0.29, -0.41,
    -0.30, -0.27, -0.51, -0.30, -0.24, -0.35, -0.05, 0.08, -0.07, -0.20,
    -0.15, -0.25, -0.26, -0.33, -0.39, -0.28, -0.30, -0.13, -0.40, -0.20,
    -0.16]
EASTPORT_R15 = [
    -0.25, -0.10, -0.52, -0.33, -0.17, -0.28, -0.23, -0.30, -0.17, -0.34,
    -0.10, -0.21, -0.13, -0.32, -0.28, -0.41, -0.31, -0.36, -0.32, -0.43,
    -0.28, -0.31, -0.10, -0.32, -0.06, -0.34, -0.06, -0.42, -0.28, -0.17,
    -0.34, -0.16, -0.22, -0.18, -0.22, -0.28, -0.32, -0.02, -0.34, -0.16,
    -0.07, -0.20, -0.22, -0.28, -0.31, -0.33, -0.30, -0.33, -0.30, -0.28,
    -0.47, -0.30, -0.28, -0.13, -0.17, -0.17, -0.30, -0.40, -0.31, -0.38,
    -0.34, -0.09, -0.14, -0.10, -0.21, -0.25, -0.17, -0.19, -0.21, -0.20,
    -0.15, -0.16, -0.10, -0.18, -0.18, -0.32, -0.27, -0.30, -0.30, -0.33,
    -0.16, -0.20, -0.17, -0.22, -0.38, -0.27, -0.34, -0.19, -0.28, -0.13,
    -0.24, -0.29, -0.15, -0.34, -0.14, -0.33, -0.26, -0.32, -0.24, -0.44,
    -0.29, -0.16, -0.45, -0.12, -0.36, -0.22, -0.31, -0.32, -0.32, -0.15,
    -0.35, -0.12, -0.52, -0.26, -0.27]
EASTPORT_RUN = [
    -0.20, -0.12, -0.50, -0.33, -0.18, -0.29, -0.25, -0.31, -0.19, -0.36,
    -0.13, -0.26, -0.17, -0.32, -0.27, -0.42, -0.31, -0.38, -0.34, -0.45,
    -0.31, -0.34, -0.12, -0.34, -0.03, -0.36, -0.09, -0.46, -0.30, -0.18,
    -0.36, -0.16, -0.25, -0.18, -0.30, -0.42, -0.37, -0.04, -0.36, -0.20,
    -0.11, -0.22, -0.25, -0.35, -0.32, -0.38, -0.30, -0.35, -0.31, -0.29,
    -0.48, -0.32, -0.33, -0.19, -0.20, -0.21, -0.32, -0.43, -0.34, -0.41,
    -0.37, -0.12, -0.17, -0.13, -0.23, -0.27, -0.15, -0.20, -0.21, -0.23,
    -0.17, -0.18, -0.12, -0.17, -0.17, -0.33, -0.28, -0.33, -0.32, -0.34,
    -0.18, -0.21, -0.18, -0.23, -0.40, -0.28, -0.38, -0.22, -0.32, -0.18,
    -0.27, -0.34, -0.17, -0.38, -0.18, -0.36, -0.30, -0.36, -0.26, -0.48,
    -0.33, -0.27, -0.50, -0.10, -0.40, -0.25, -0.30, -0.34, -0.32, -0.18,
    -0.40, -0.08, -0.61, -0.22, -0.20]

# axis settings per panel (y range, tick step)
Y_RANGES = [[-0.507, 0.815], [-0.857, 0.238], [-0.741, 0.640], [-0.844, 0.425],
            [-0.422, 0.527], [-0.460, 0.642], [-0.775, 0.207], [-0.394, 0.460],
            [-0.763, 0.098], [-0.696, 0.123]]
Y_DTICK = [0.2, 0.2, 0.2, 0.2, 0.2, 0.2, 0.2, 0.1, 0.1, 0.1]
X_RANGE = [1.0, 12.976]

PANELS = [
    (NANTUCKET_OBS, NANTUCKET_R15, NANTUCKET_RUN),
    (WOODSHOLE_OBS, WOODSHOLE_R15, WOODSHOLE_RUN),
    (CHATHAM_OBS, CHATHAM_R15, CHATHAM_RUN),
    (BOSTON_OBS, BOSTON_R15, BOSTON_RUN),
    (FORTPOINT_OBS, FORTPOINT_R15, FORTPOINT_RUN),
    (WELLS_OBS, WELLS_R15, WELLS_RUN),
    (PORTLAND_OBS, PORTLAND_R15, PORTLAND_RUN),
    (BARHARBOR_OBS, BARHARBOR_R15, BARHARBOR_RUN),
    (CUTLER_OBS, CUTLER_R15, CUTLER_RUN),
    (EASTPORT_OBS, EASTPORT_R15, EASTPORT_RUN),
]

FONT = "DejaVu Sans"
W, H = 2550, 1950
ML, MR, MT, MB = 78, 13, 37, 39
PW, PH = W - ML - MR, H - MT - MB

fig = make_subplots(
    rows=5, cols=2,
    subplot_titles=[f"station:{s} (datum:xGEOID)" for s in STATIONS],
    horizontal_spacing=59 / PW,
    vertical_spacing=61 / PH,
)

for k, (obs, r15, run) in enumerate(PANELS):
    row, col = k // 2 + 1, k % 2 + 1
    first = (k == 0)
    n_o = min(len(T_OBS), len(obs))
    n_g = min(len(T_MODEL), len(r15))
    n_b = min(len(T_MODEL), len(run))
    fig.add_trace(go.Scatter(
        x=T_OBS[:n_o], y=obs[:n_o], mode="lines", name=SERIES_NAMES[0],
        line=dict(color="#ff0000", width=2.2, dash="13px,3px,2.5px,3px", shape="spline", smoothing=0.9),
        showlegend=first, legendgroup="obs"), row=row, col=col)
    fig.add_trace(go.Scatter(
        x=T_MODEL[:n_g], y=r15[:n_g], mode="lines", name=SERIES_NAMES[1],
        line=dict(color="#008000", width=1.0, dash="3.5px,1.8px", shape="spline", smoothing=0.9),
        showlegend=first, legendgroup="r15"), row=row, col=col)
    fig.add_trace(go.Scatter(
        x=T_MODEL[:n_b], y=run[:n_b], mode="lines", name=SERIES_NAMES[2],
        line=dict(color="#0000ff", width=1.0, shape="spline", smoothing=0.9),
        showlegend=first, legendgroup="run"), row=row, col=col)

    fig.update_xaxes(
        range=X_RANGE, tickmode="array", tickvals=X_TICK_POS, ticktext=X_TICK_TEXT,
        showline=True, mirror=True, linecolor="black", linewidth=1.2,
        ticks="outside", ticklen=5, tickwidth=1.1, tickcolor="black",
        showgrid=False, zeroline=False,
        tickfont=dict(family=FONT, size=13.5, color="black"),
        row=row, col=col)
    ykw = dict(
        range=Y_RANGES[k], tick0=0, dtick=Y_DTICK[k], tickformat=".1f",
        showline=True, mirror=True, linecolor="black", linewidth=1.2,
        ticks="outside", ticklen=5, tickwidth=1.1, tickcolor="black",
        showgrid=False, zeroline=False,
        tickfont=dict(family=FONT, size=13.5, color="black"))
    if col == 1:
        ykw["title"] = dict(text="Elevation (m)", font=dict(family=FONT, size=13.5, color="black"), standoff=8)
    fig.update_yaxes(row=row, col=col, **ykw)

for ann in fig.layout.annotations:
    ann.font = dict(family=FONT, size=17, color="black")
    ann.yshift = 8

# legend inside the first panel, top-right (paper coords are relative to the plot area)
LEG_RIGHT_PX, LEG_TOP_PX = 1276, 43
fig.update_layout(
    width=W, height=H,
    margin=dict(l=ML, r=MR, t=MT, b=MB, autoexpand=False),
    paper_bgcolor="white", plot_bgcolor="white",
    font=dict(family=FONT, size=13.5, color="black"),
    showlegend=True,
    legend=dict(
        x=(LEG_RIGHT_PX - ML) / PW, xanchor="right",
        y=1 - (LEG_TOP_PX - MT) / PH, yanchor="top",
        bgcolor="rgba(255,255,255,0.85)", bordercolor="#cccccc", borderwidth=1,
        font=dict(family=FONT, size=13.5, color="black"),
        tracegroupgap=2, itemwidth=30,
    ),
)

fig.write_html("out.html")
